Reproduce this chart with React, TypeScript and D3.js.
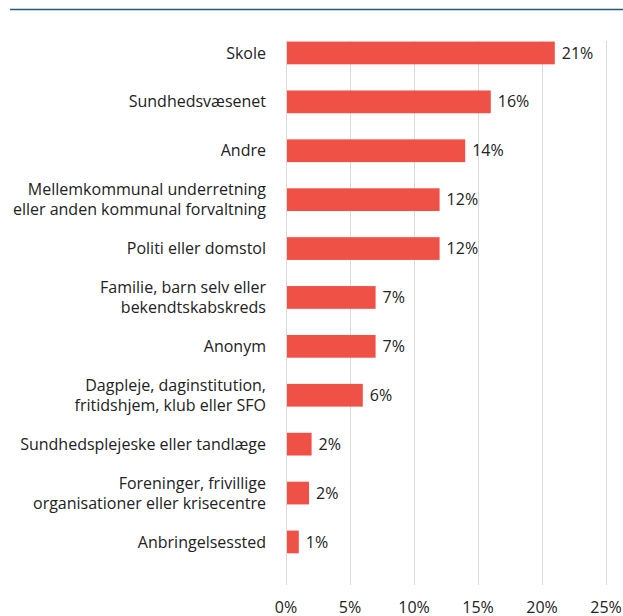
import React from "react";
import * as d3 from "d3";

const categories: string[][] = [
  ["Skole"],
  ["Sundhedsvæsenet"],
  ["Andre"],
  ["Mellemkommunal underretning", "eller anden kommunal forvaltning"],
  ["Politi eller domstol"],
  ["Familie, barn selv eller", "bekendtskabskreds"],
  ["Anonym"],
  ["Dagpleje, daginstitution,", "fritidshjem, klub eller SFO"],
  ["Sundhedsplejeske eller tandlæge"],
  ["Foreninger, frivillige", "organisationer eller krisecentre"],
  ["Anbringelsessted"],
];
const values: number[] = [21, 16, 14, 12, 12, 7, 7, 6, 2, 1.8, 1];
const valueLabels: string[] = ["21%", "16%", "14%", "12%", "12%", "7%", "7%", "6%", "2%", "2%", "1%"];
const ticks: number[] = [0, 5, 10, 15, 20, 25];

const W = 623;
const H = 616;
const FONT = "'Open Sans', 'Noto Sans', sans-serif";

export default function App() {
  const x = d3.scaleLinear().domain([0, 25]).range([286, 606]);
  const keys = categories.map((_, i) => String(i));
  const y = d3
    .scaleBand<string>()
    .domain(keys)
    .range([28.5, 566.4])
    .paddingInner(0.535)
    .paddingOuter(0.2675);
  const bw = y.bandwidth();

  return (
    <svg
      width={W}
      height={H}
      style={{ position: "absolute", left: 0, top: 0, background: "#fff" }}
      fontFamily={FONT}
    >
      <line x1={10} x2={623} y1={9.5} y2={9.5} stroke="#1b5f78" strokeWidth={1.3} />
      {ticks.map((t) => (
        <g key={t}>
          <line
            x1={x(t) + 0.5}
            x2={x(t) + 0.5}
            y1={41}
            y2={585}
            stroke="#d9d9d9"
            strokeWidth={1}
          />
          <text
            x={x(t)}
            y={613}
            textAnchor="middle"
            fontSize={16}
            fill="#222"
          >
            {t}%
          </text>
        </g>
      ))}
      {categories.map((lines, i) => {
        const yc = (y(String(i)) as number) + bw / 2;
        const lh = 20;
        const start = yc - ((lines.length - 1) * lh) / 2;
        return (
          <g key={i}>
            <rect
              x={x(0) + 1}
              y={y(String(i))}
              width={x(values[i]) - x(0) - 1}
              height={bw}
              fill="#f05147"
            />
            <text
              x={x(values[i]) + 7}
              y={yc}
              dy="0.35em"
              fontSize={16}
              fill="#222"
            >
              {valueLabels[i]}
            </text>
            {lines.map((l, j) => (
              <text
                key={j}
                x={266}
                y={start + j * lh}
                dy="0.35em"
                textAnchor="end"
                fontSize={16}
                fill="#222"
              >
                {l}
              </text>
            ))}
          </g>
        );
      })}
    </svg>
  );
}
